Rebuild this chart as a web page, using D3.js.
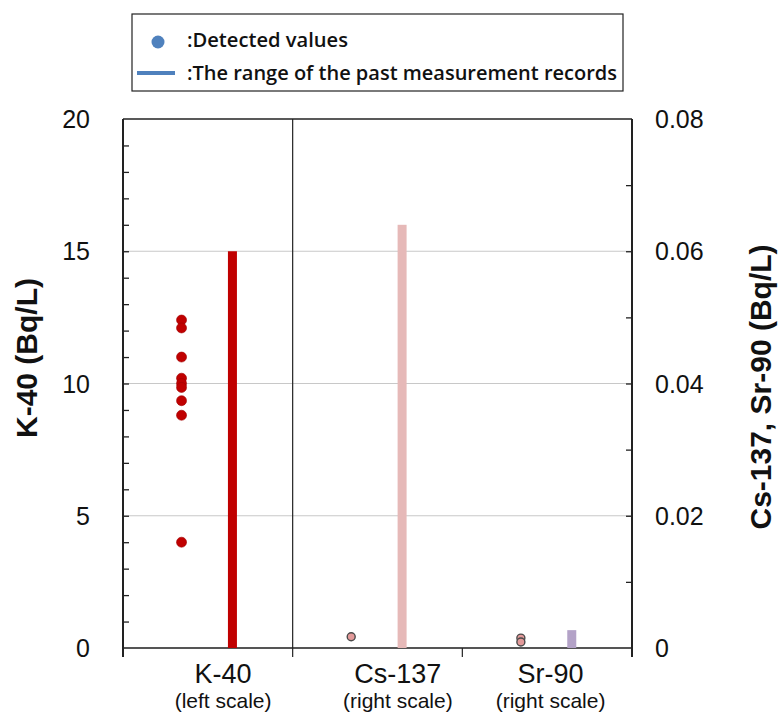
<!DOCTYPE html>
<html>
<head>
<meta charset="utf-8">
<script src="https://cdn.jsdelivr.net/npm/d3@7"></script>
<style>
  body { margin: 0; background: #fff; }
  text { font-family: "Liberation Sans", Arial, sans-serif; fill: #111; }
  .legend-text { font-family: "Open Sans", "Noto Sans", sans-serif; font-weight: 600; }
</style>
</head>
<body>
<div class="chart"></div>
<script>
// ---- data ----
var categories = ["K-40", "Cs-137", "Sr-90"];
var subLabels = ["(left scale)", "(right scale)", "(right scale)"];
var scaleSide = ["left", "right", "right"];

var k40Values = [12.4, 12.1, 11.0, 10.2, 10.0, 9.85, 9.35, 8.8, 4.0];
var cs137Values = [0.0017];
var sr90Values = [0.0015, 0.0009];

// range of past measurement records [min, max]
var pastRanges = [[0, 15], [0, 0.064], [0, 0.0027]];

var leftTicks = [0, 5, 10, 15, 20];
var rightTicks = [0, 0.02, 0.04, 0.06, 0.08];

var svgWidth = 780;
var svgHeight = 716;

var margin = { top: 119, right: 148, bottom: 68, left: 123 };
var width = svgWidth - margin.left - margin.right;
var height = svgHeight - margin.top - margin.bottom;

var dotColors = ["#c00000", "#e39a9a", "#e39a9a"];
var dotStroke = ["#a00000", "#4a4a4a", "#4a4a4a"];
var barColors = ["#c00000", "#e6b9b8", "#b3a2c7"];

var svg = d3.select(".chart")
  .append("svg")
  .attr("width", svgWidth)
  .attr("height", svgHeight);

var chartGroup = svg.append("g")
  .attr("transform", `translate(${margin.left}, ${margin.top})`);

// scales
var xScale = d3.scaleBand()
  .domain(categories)
  .range([0, width]);

var yLeft = d3.scaleLinear()
  .domain([0, 20])
  .range([height, 0]);

var yRight = d3.scaleLinear()
  .domain([0, 0.08])
  .range([height, 0]);

function yFor(i) {
  return scaleSide[i] === "left" ? yLeft : yRight;
}

// gridlines
chartGroup.append("g")
  .selectAll("line")
  .data(leftTicks.filter(d => d > 0 && d < 20))
  .enter()
  .append("line")
  .attr("x1", 0)
  .attr("x2", width)
  .attr("y1", d => yLeft(d))
  .attr("y2", d => yLeft(d))
  .attr("stroke", "#c8c8c8")
  .attr("stroke-width", 1.2);

// minor ticks, left (inside)
var leftAxis = d3.axisRight(yLeft)
  .tickValues(d3.range(1, 20, 1))
  .tickSize(6)
  .tickFormat("");
chartGroup.append("g")
  .call(leftAxis)
  .call(g => g.select(".domain").remove())
  .selectAll("line")
  .attr("stroke", "#222")
  .attr("stroke-width", 1.3);

// minor ticks, right (inside)
var rightAxis = d3.axisLeft(yRight)
  .tickValues(d3.range(1, 8, 1).map(d => d / 100))
  .tickSize(6)
  .tickFormat("");
chartGroup.append("g")
  .attr("transform", `translate(${width}, 0)`)
  .call(rightAxis)
  .call(g => g.select(".domain").remove())
  .selectAll("line")
  .attr("stroke", "#222")
  .attr("stroke-width", 1.3);

// tick labels
chartGroup.append("g")
  .selectAll("text")
  .data(leftTicks)
  .enter()
  .append("text")
  .attr("x", -33)
  .attr("y", d => yLeft(d))
  .attr("dy", "0.36em")
  .attr("text-anchor", "end")
  .style("font-size", "25px")
  .text(d => d);

chartGroup.append("g")
  .selectAll("text")
  .data(rightTicks)
  .enter()
  .append("text")
  .attr("x", width + 23)
  .attr("y", d => yRight(d))
  .attr("dy", "0.36em")
  .attr("text-anchor", "start")
  .style("font-size", "25px")
  .text(d => d === 0 ? "0" : d3.format(".2f")(d));

// frame: top, left, right, baseline, divider
chartGroup.append("line")
  .attr("x1", 0).attr("x2", width)
  .attr("y1", 0).attr("y2", 0)
  .attr("stroke", "#222").attr("stroke-width", 1.5);

chartGroup.append("line")
  .attr("x1", 0).attr("x2", width)
  .attr("y1", height).attr("y2", height)
  .attr("stroke", "#555").attr("stroke-width", 2);

chartGroup.append("line")
  .attr("x1", 0).attr("x2", 0)
  .attr("y1", 0).attr("y2", height + 9)
  .attr("stroke", "#222").attr("stroke-width", 2);

chartGroup.append("line")
  .attr("x1", width).attr("x2", width)
  .attr("y1", 0).attr("y2", height + 9)
  .attr("stroke", "#222").attr("stroke-width", 2);

chartGroup.append("line")
  .attr("x1", xScale("Cs-137")).attr("x2", xScale("Cs-137"))
  .attr("y1", 0).attr("y2", height + 9)
  .attr("stroke", "#222").attr("stroke-width", 1.2);

chartGroup.append("line")
  .attr("x1", xScale("Sr-90")).attr("x2", xScale("Sr-90"))
  .attr("y1", height).attr("y2", height + 9)
  .attr("stroke", "#222").attr("stroke-width", 1.2);

// range bars
chartGroup.selectAll(".range-bar")
  .data(pastRanges)
  .enter()
  .append("rect")
  .attr("class", "range-bar")
  .attr("x", (d, i) => xScale(categories[i]) + xScale.bandwidth() * 0.645 - 4.5)
  .attr("width", 9)
  .attr("y", (d, i) => yFor(i)(d[1]))
  .attr("height", (d, i) => yFor(i)(d[0]) - yFor(i)(d[1]))
  .attr("fill", (d, i) => barColors[i]);

// detected values
var detected = [k40Values, cs137Values, sr90Values];
var dotR = [5, 4, 4];
detected.forEach(function(vals, i) {
  chartGroup.append("g")
    .selectAll("circle")
    .data(vals)
    .enter()
    .append("circle")
    .attr("cx", xScale(categories[i]) + xScale.bandwidth() * 0.345)
    .attr("cy", d => yFor(i)(d))
    .attr("r", dotR[i])
    .attr("fill", dotColors[i])
    .attr("stroke", dotStroke[i])
    .attr("stroke-width", i === 0 ? 0.6 : 1.4);
});

// category labels
var labelShift = [0.59, 0.62, 0.52];
var catLabels = chartGroup.append("g")
  .selectAll("g")
  .data(categories)
  .enter()
  .append("g")
  .attr("transform", (d, i) => `translate(${xScale(d) + xScale.bandwidth() * labelShift[i]}, ${height})`);

catLabels.append("text")
  .attr("y", 35)
  .attr("text-anchor", "middle")
  .style("font-size", "27px")
  .text(d => d);

catLabels.append("text")
  .attr("y", 60)
  .attr("text-anchor", "middle")
  .style("font-size", "21px")
  .text((d, i) => subLabels[i]);

// axis titles
svg.append("text")
  .attr("transform", `translate(37, ${358}) rotate(-90)`)
  .attr("text-anchor", "middle")
  .style("font-size", "30px")
  .style("font-weight", "bold")
  .text("K-40 (Bq/L)");

svg.append("text")
  .attr("transform", `translate(771, ${387}) rotate(-90)`)
  .attr("text-anchor", "middle")
  .style("font-size", "30px")
  .style("font-weight", "bold")
  .text("Cs-137, Sr-90 (Bq/L)");

// legend
var legend = svg.append("g");
legend.append("rect")
  .attr("x", 132).attr("y", 14)
  .attr("width", 491).attr("height", 77)
  .attr("fill", "#fff")
  .attr("stroke", "#222")
  .attr("stroke-width", 1.2);

legend.append("circle")
  .attr("cx", 158).attr("cy", 42).attr("r", 6.5)
  .attr("fill", "#4f81bd");

legend.append("line")
  .attr("x1", 137).attr("x2", 175)
  .attr("y1", 73).attr("y2", 73)
  .attr("stroke", "#4f81bd")
  .attr("stroke-width", 4);

legend.append("text")
  .attr("class", "legend-text")
  .attr("x", 187).attr("y", 47)
  .attr("textLength", 161)
  .attr("lengthAdjust", "spacingAndGlyphs")
  .style("font-size", "19px")
  .text(":Detected values");

legend.append("text")
  .attr("class", "legend-text")
  .attr("x", 187).attr("y", 80)
  .attr("textLength", 430)
  .attr("lengthAdjust", "spacingAndGlyphs")
  .style("font-size", "19px")
  .text(":The range of the past measurement records");
</script>
</body>
</html>
